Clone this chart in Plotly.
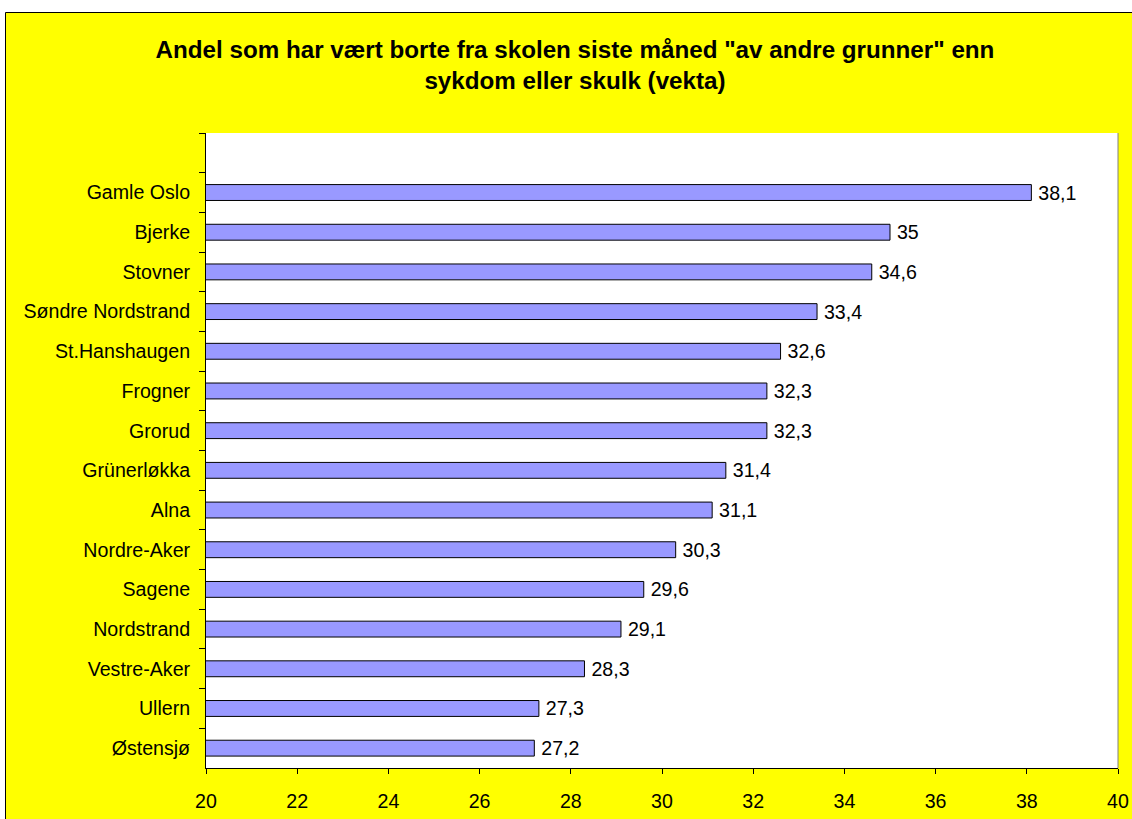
import plotly.graph_objects as go

categories = ["Gamle Oslo", "Bjerke", "Stovner", "Søndre Nordstrand", "St.Hanshaugen",
              "Frogner", "Grorud", "Grünerløkka", "Alna", "Nordre-Aker", "Sagene",
              "Nordstrand", "Vestre-Aker", "Ullern", "Østensjø"]
values = [38.1, 35, 34.6, 33.4, 32.6, 32.3, 32.3, 31.4, 31.1, 30.3, 29.6, 29.1, 28.3, 27.3, 27.2]
x_ticks = [20, 22, 24, 26, 28, 30, 32, 34, 36, 38, 40]
title_text = ('Andel som har vært borte fra skolen siste måned "av andre grunner" enn'
              '<br>sykdom eller skulk (vekta)')

W, H = 1132, 819
L, R, T, B = 206, 1118, 133, 768  # plot area in pixels

labels = ["\u2009" + f"{v:g}".replace(".", ",") for v in values]
font = "Liberation Sans, Arial, sans-serif"
FS = 19.6

fig = go.Figure(go.Bar(
    y=categories, x=values, base=0, orientation="h",
    marker=dict(color="#9999FF", line=dict(color="#000000", width=1)),
    width=0.4,
    text=labels, textposition="outside", constraintext="none",
    textfont=dict(family=font, size=FS, color="black"),
    cliponaxis=False,
))

def px_x(p):
    return (p - L) / (R - L)

def px_y(p):
    return (B - p) / (B - T)

fig.update_layout(
    width=W, height=H,
    margin=dict(l=L, r=W - R, t=T, b=H - B, autoexpand=False),
    paper_bgcolor="white",
    plot_bgcolor="white",
    showlegend=False,
    font=dict(family=font, size=FS, color="black"),
    title=dict(text=title_text, x=575 / W, xanchor="center", xref="container",
               y=1 - 58 / H, yanchor="top", yref="container",
               font=dict(family=font, size=24.2, color="black", weight="bold")),
    xaxis=dict(range=[20, 40], tickvals=x_ticks, ticks="outside", ticklen=5,
               tickcolor="black", showline=True, linecolor="black", linewidth=1,
               showgrid=False, zeroline=False, tickfont=dict(size=FS),
               ticklabelstandoff=10),
    yaxis=dict(categoryorder="array", categoryarray=[" "] + categories,
               range=[len(categories) + 0.5, -0.5], tickson="boundaries",
               ticks="outside", ticklen=6, tickcolor="black", showline=True,
               linecolor="black", linewidth=1, showgrid=False, zeroline=False,
               tickfont=dict(size=FS), ticklabelstandoff=11),
    shapes=[
        dict(type="rect", xref="paper", yref="paper", layer="below",
             x0=px_x(5.5), x1=px_x(W + 20), y0=px_y(H + 20), y1=px_y(12.5),
             fillcolor="#FFFF00", line=dict(color="black", width=1)),
        dict(type="rect", xref="paper", yref="paper", layer="below",
             x0=0, x1=1, y0=0, y1=1, fillcolor="white", line=dict(width=0)),
        dict(type="line", xref="paper", yref="paper", layer="above",
             x0=1, x1=1, y0=0, y1=1, line=dict(color="#808080", width=1)),
    ],
)

fig.write_html("out.html", config={"displayModeBar": False},
               post_script="document.body.style.margin='0';document.body.style.overflow='hidden';")
